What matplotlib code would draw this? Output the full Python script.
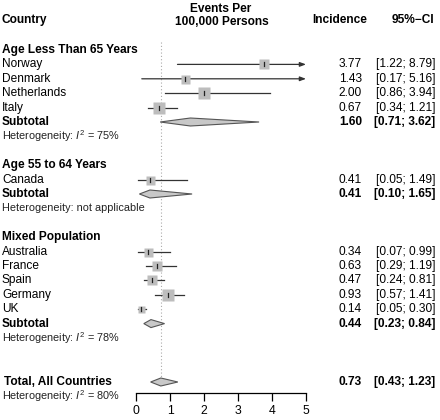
import matplotlib.pyplot as plt
import matplotlib.transforms as mtransforms
from matplotlib.patches import Polygon

plt.rcParams['font.family'] = ['Liberation Sans', 'DejaVu Sans']
plt.rcParams['mathtext.fontset'] = 'custom'
plt.rcParams['mathtext.rm'] = 'Liberation Sans'
plt.rcParams['mathtext.it'] = 'Liberation Sans:italic'

# data
group_names = ['Age Less Than 65 Years', 'Age 55 to 64 Years', 'Mixed Population']
countries = [['Norway', 'Denmark', 'Netherlands', 'Italy'],
             ['Canada'],
             ['Australia', 'France', 'Spain', 'Germany', 'UK']]
incidence = [[3.77, 1.43, 2.00, 0.67], [0.41], [0.34, 0.63, 0.47, 0.93, 0.14]]
ci_low = [[1.22, 0.17, 0.86, 0.34], [0.05], [0.07, 0.29, 0.24, 0.57, 0.05]]
ci_high = [[8.79, 5.16, 3.94, 1.21], [1.49], [0.99, 1.19, 0.81, 1.41, 0.30]]
weights = [[10, 9, 12, 12], [9], [9, 10, 10, 12, 7]]
sub_est = [1.60, 0.41, 0.44]
sub_low = [0.71, 0.10, 0.23]
sub_high = [3.62, 1.65, 0.84]
heterogeneity = [r'Heterogeneity: $I^2$ = 75%', 'Heterogeneity: not applicable',
                 r'Heterogeneity: $I^2$ = 78%']
total_est, total_low, total_high = 0.73, 0.43, 1.23
total_het = r'Heterogeneity: $I^2$ = 80%'
xticks = [0, 1, 2, 3, 4, 5]

W, H = 440, 420
fig = plt.figure(figsize=(W / 100, H / 100), dpi=100)
ax = fig.add_axes([136 / W, 0, 170 / W, 1])
ax.set_xlim(0, 5)
ax.set_ylim(H, 0)
ax.patch.set_visible(False)
for s in ['top', 'right', 'left']:
    ax.spines[s].set_visible(False)
ax.spines['bottom'].set_position(('data', 393))
ax.spines['bottom'].set_bounds(0, 5)
ax.spines['bottom'].set_linewidth(0.9)
ax.set_yticks([])
ax.set_xticks(xticks)
ax.tick_params(axis='x', length=6, width=0.9, labelsize=8.8, pad=3)

tr = mtransforms.blended_transform_factory(fig.transFigure, ax.transData)
fs = 8.6
fs_het = 7.8

def fx(px):
    return px / W

def row_text(y, label, est, lo, hi, bold=False):
    w = 'bold' if bold else 'normal'
    ax.text(fx(2), y, label, transform=tr, fontsize=fs, weight=w, va='center', ha='left')
    ax.text(fx(362), y, f'{est:.2f}', transform=tr, fontsize=fs, weight=w, va='center', ha='right')
    ax.text(fx(435), y, f'[{lo:.2f}; {hi:.2f}]', transform=tr, fontsize=fs, weight=w,
            va='center', ha='right')

def diamond(y, est, lo, hi):
    h = 4
    ax.add_patch(Polygon([(lo, y), (est, y - h), (hi, y), (est, y + h)], closed=True,
                         facecolor='#c8c8c8', edgecolor='#555555', lw=0.8, zorder=3))

# headers
ax.text(fx(2), 20, 'Country', transform=tr, fontsize=fs, weight='bold', va='center')
ax.text(fx(221), 9, 'Events Per', transform=tr, fontsize=fs, weight='bold', va='center', ha='center')
ax.text(fx(222), 22, '100,000 Persons', transform=tr, fontsize=fs, weight='bold', va='center', ha='center')
ax.text(fx(340), 20, 'Incidence', transform=tr, fontsize=fs, weight='bold', va='center', ha='center')
ax.text(fx(434), 20, '95%\u2212CI', transform=tr, fontsize=fs, weight='bold', va='center', ha='right')

step = 14.4
y = 50
for g in range(len(group_names)):
    ax.text(fx(2), y, group_names[g], transform=tr, fontsize=fs, weight='bold', va='center')
    y += step
    for name, est, lo, hi, wt in zip(countries[g], incidence[g], ci_low[g], ci_high[g], weights[g]):
        if hi > 5:
            ax.annotate('', xy=(5, y), xytext=(lo, y),
                        arrowprops=dict(arrowstyle='-|>,head_length=0.35,head_width=0.13',
                                        color='#333333', lw=0.9, shrinkA=0, shrinkB=0))
        else:
            ax.plot([lo, hi], [y, y], color='#333333', lw=0.9, zorder=2)
        ax.plot(est, y, marker='s', ms=wt * 0.72, color='#bdbdbd', mec='none', zorder=3)
        ax.plot([est, est], [y - 2, y + 2], color='#222222', lw=0.9, zorder=4)
        row_text(y, name, est, lo, hi)
        y += step
    diamond(y, sub_est[g], sub_low[g], sub_high[g])
    row_text(y, 'Subtotal', sub_est[g], sub_low[g], sub_high[g], bold=True)
    y += step
    ax.text(fx(2), y, heterogeneity[g], transform=tr, fontsize=fs_het, va='center', color='#222222')
    y += 2 * step

y_total = 382
diamond(y_total, total_est, total_low, total_high)
ax.text(fx(4), y_total, 'Total, All Countries', transform=tr, fontsize=fs, weight='bold', va='center')
ax.text(fx(362), y_total, f'{total_est:.2f}', transform=tr, fontsize=fs, weight='bold', va='center', ha='right')
ax.text(fx(435), y_total, f'[{total_low:.2f}; {total_high:.2f}]', transform=tr, fontsize=fs,
        weight='bold', va='center', ha='right')
ax.text(fx(2), 396, total_het, transform=tr, fontsize=fs_het, va='center', color='#222222')

ax.plot([total_est, total_est], [42, 380], color='#aaaaaa', lw=0.8, ls=(0, (1, 2)), zorder=1)

fig.savefig('out.png', dpi=100)
